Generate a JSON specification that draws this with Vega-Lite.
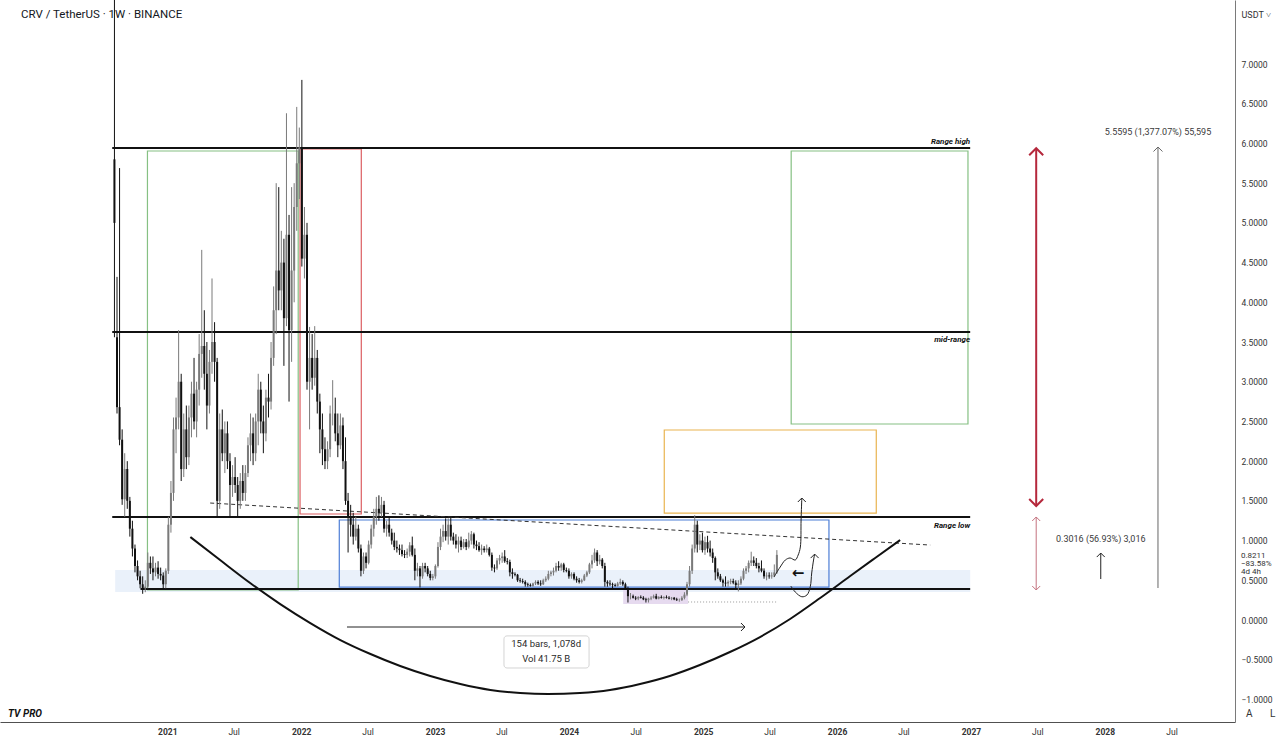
{
"$schema":"https://vega.github.io/schema/vega-lite/v6.json",
"width":1235,"height":722,
"autosize":{"type":"none"},
"padding":{"left":0,"top":0,"right":45,"bottom":22},
"background":"#ffffff",
"config":{"view":{"stroke":null},"font":"Roboto","scale":{"continuousPadding":0}},
"title":{"text":"CRV / TetherUS · 1W · BINANCE","anchor":"start","frame":"group","orient":"top","offset":-20,"dx":21,"fontSize":11.5,"fontWeight":"normal","color":"#131722","font":"Roboto"},
"datasets":{
"candles":[
{"d":"2020-08-10","o":5.8,"h":9.5,"l":3.56,"c":5.0},
{"d":"2020-08-17","o":3.56,"h":4.32,"l":2.6,"c":2.68},
{"d":"2020-08-24","o":2.68,"h":5.69,"l":2.2,"c":2.27},
{"d":"2020-08-31","o":2.27,"h":2.4,"l":1.45,"c":1.52},
{"d":"2020-09-07","o":1.52,"h":2.1,"l":1.3,"c":1.9},
{"d":"2020-09-14","o":1.9,"h":2.0,"l":1.4,"c":1.5},
{"d":"2020-09-21","o":1.5,"h":1.55,"l":1.05,"c":1.15},
{"d":"2020-09-28","o":1.15,"h":1.25,"l":0.8,"c":0.9},
{"d":"2020-10-05","o":0.9,"h":0.95,"l":0.6,"c":0.68},
{"d":"2020-10-12","o":0.68,"h":0.75,"l":0.5,"c":0.55},
{"d":"2020-10-19","o":0.55,"h":0.62,"l":0.4,"c":0.45},
{"d":"2020-10-26","o":0.45,"h":0.55,"l":0.33,"c":0.4},
{"d":"2020-11-02","o":0.4,"h":0.5,"l":0.35,"c":0.42},
{"d":"2020-11-09","o":0.42,"h":0.85,"l":0.4,"c":0.72},
{"d":"2020-11-16","o":0.72,"h":0.8,"l":0.58,"c":0.65},
{"d":"2020-11-23","o":0.65,"h":0.8,"l":0.5,"c":0.6},
{"d":"2020-11-30","o":0.6,"h":0.72,"l":0.55,"c":0.66},
{"d":"2020-12-07","o":0.66,"h":0.74,"l":0.52,"c":0.58},
{"d":"2020-12-14","o":0.58,"h":0.66,"l":0.5,"c":0.56},
{"d":"2020-12-21","o":0.56,"h":0.6,"l":0.4,"c":0.45},
{"d":"2020-12-28","o":0.45,"h":0.65,"l":0.4,"c":0.62},
{"d":"2021-01-04","o":0.62,"h":1.3,"l":0.58,"c":1.2},
{"d":"2021-01-11","o":1.2,"h":1.75,"l":1.1,"c":1.6},
{"d":"2021-01-18","o":1.6,"h":2.55,"l":1.5,"c":2.4},
{"d":"2021-01-25","o":2.4,"h":2.8,"l":2.1,"c":2.55},
{"d":"2021-02-01","o":2.55,"h":3.65,"l":2.4,"c":3.0},
{"d":"2021-02-08","o":3.0,"h":3.1,"l":1.75,"c":1.9},
{"d":"2021-02-15","o":1.9,"h":2.6,"l":1.8,"c":2.4},
{"d":"2021-02-22","o":2.4,"h":2.7,"l":1.9,"c":2.05},
{"d":"2021-03-01","o":2.05,"h":2.7,"l":1.95,"c":2.55},
{"d":"2021-03-08","o":2.55,"h":3.0,"l":2.3,"c":2.85},
{"d":"2021-03-15","o":2.85,"h":3.3,"l":2.4,"c":2.5},
{"d":"2021-03-22","o":2.5,"h":3.0,"l":2.3,"c":2.9},
{"d":"2021-03-29","o":2.9,"h":3.6,"l":2.7,"c":3.35},
{"d":"2021-04-05","o":3.35,"h":4.66,"l":3.05,"c":3.45},
{"d":"2021-04-12","o":3.45,"h":3.9,"l":2.9,"c":3.1},
{"d":"2021-04-19","o":3.1,"h":3.5,"l":2.4,"c":2.7},
{"d":"2021-04-26","o":2.7,"h":3.4,"l":2.6,"c":3.25},
{"d":"2021-05-03","o":3.25,"h":4.3,"l":3.1,"c":3.5},
{"d":"2021-05-10","o":3.5,"h":3.75,"l":3.0,"c":3.25},
{"d":"2021-05-17","o":3.25,"h":3.3,"l":1.3,"c":1.5},
{"d":"2021-05-24","o":1.5,"h":2.6,"l":1.4,"c":2.4},
{"d":"2021-05-31","o":2.4,"h":2.65,"l":2.0,"c":2.1},
{"d":"2021-06-07","o":2.1,"h":2.5,"l":1.85,"c":2.35},
{"d":"2021-06-14","o":2.35,"h":2.5,"l":1.9,"c":2.0},
{"d":"2021-06-21","o":2.0,"h":2.1,"l":1.3,"c":1.7},
{"d":"2021-06-28","o":1.7,"h":1.95,"l":1.55,"c":1.8},
{"d":"2021-07-05","o":1.8,"h":2.05,"l":1.6,"c":1.7},
{"d":"2021-07-12","o":1.7,"h":1.8,"l":1.3,"c":1.5},
{"d":"2021-07-19","o":1.5,"h":1.85,"l":1.4,"c":1.75},
{"d":"2021-07-26","o":1.75,"h":1.95,"l":1.5,"c":1.6},
{"d":"2021-08-02","o":1.6,"h":1.95,"l":1.5,"c":1.85},
{"d":"2021-08-09","o":1.85,"h":2.3,"l":1.8,"c":2.2},
{"d":"2021-08-16","o":2.2,"h":2.6,"l":2.0,"c":2.35},
{"d":"2021-08-23","o":2.35,"h":2.55,"l":1.95,"c":2.1},
{"d":"2021-08-30","o":2.1,"h":2.6,"l":2.0,"c":2.5},
{"d":"2021-09-06","o":2.5,"h":3.1,"l":2.2,"c":2.9},
{"d":"2021-09-13","o":2.9,"h":3.0,"l":2.35,"c":2.5},
{"d":"2021-09-20","o":2.5,"h":2.7,"l":2.1,"c":2.35},
{"d":"2021-09-27","o":2.35,"h":2.9,"l":2.25,"c":2.8},
{"d":"2021-10-04","o":2.8,"h":3.1,"l":2.55,"c":2.75},
{"d":"2021-10-11","o":2.75,"h":3.5,"l":2.65,"c":3.3},
{"d":"2021-10-18","o":3.3,"h":4.2,"l":3.2,"c":3.9},
{"d":"2021-10-25","o":3.9,"h":5.5,"l":3.6,"c":4.4},
{"d":"2021-11-01","o":4.4,"h":5.45,"l":3.9,"c":4.15},
{"d":"2021-11-08","o":4.15,"h":4.9,"l":3.9,"c":4.5},
{"d":"2021-11-15","o":4.5,"h":4.8,"l":3.2,"c":3.8},
{"d":"2021-11-22","o":3.8,"h":6.38,"l":3.7,"c":4.85},
{"d":"2021-11-29","o":4.85,"h":5.1,"l":2.75,"c":3.65},
{"d":"2021-12-06","o":3.65,"h":5.45,"l":3.25,"c":4.4},
{"d":"2021-12-13","o":4.4,"h":5.5,"l":4.0,"c":5.2},
{"d":"2021-12-20","o":5.2,"h":6.46,"l":4.9,"c":5.75},
{"d":"2021-12-27","o":5.75,"h":6.2,"l":5.3,"c":5.95},
{"d":"2022-01-03","o":5.95,"h":6.8,"l":4.45,"c":4.55},
{"d":"2022-01-10","o":4.55,"h":5.2,"l":4.3,"c":4.85},
{"d":"2022-01-17","o":4.85,"h":5.0,"l":2.9,"c":3.0},
{"d":"2022-01-24","o":3.0,"h":3.69,"l":2.4,"c":3.3},
{"d":"2022-01-31","o":3.3,"h":3.6,"l":2.9,"c":3.05},
{"d":"2022-02-07","o":3.05,"h":3.7,"l":2.95,"c":3.3},
{"d":"2022-02-14","o":3.3,"h":3.4,"l":2.6,"c":2.75},
{"d":"2022-02-21","o":2.75,"h":2.85,"l":2.1,"c":2.4},
{"d":"2022-02-28","o":2.4,"h":2.6,"l":1.95,"c":2.15},
{"d":"2022-03-07","o":2.15,"h":2.3,"l":1.9,"c":2.0},
{"d":"2022-03-14","o":2.0,"h":2.25,"l":1.9,"c":2.15},
{"d":"2022-03-21","o":2.15,"h":2.7,"l":2.05,"c":2.6},
{"d":"2022-03-28","o":2.6,"h":3.02,"l":2.45,"c":2.6},
{"d":"2022-04-04","o":2.6,"h":2.8,"l":2.25,"c":2.35},
{"d":"2022-04-11","o":2.35,"h":2.6,"l":2.05,"c":2.2},
{"d":"2022-04-18","o":2.2,"h":2.6,"l":2.15,"c":2.45},
{"d":"2022-04-25","o":2.45,"h":2.55,"l":1.9,"c":2.0},
{"d":"2022-05-02","o":2.0,"h":2.3,"l":1.45,"c":1.5},
{"d":"2022-05-09","o":1.5,"h":1.6,"l":0.85,"c":1.3},
{"d":"2022-05-16","o":1.3,"h":1.45,"l":1.05,"c":1.2},
{"d":"2022-05-23","o":1.2,"h":1.35,"l":0.95,"c":1.05},
{"d":"2022-05-30","o":1.05,"h":1.3,"l":1.0,"c":1.15},
{"d":"2022-06-06","o":1.15,"h":1.2,"l":0.85,"c":0.9},
{"d":"2022-06-13","o":0.9,"h":0.95,"l":0.55,"c":0.62},
{"d":"2022-06-20","o":0.62,"h":0.85,"l":0.58,"c":0.8},
{"d":"2022-06-27","o":0.8,"h":0.85,"l":0.65,"c":0.72},
{"d":"2022-07-04","o":0.72,"h":1.0,"l":0.7,"c":0.95},
{"d":"2022-07-11","o":0.95,"h":1.2,"l":0.9,"c":1.15},
{"d":"2022-07-18","o":1.15,"h":1.4,"l":1.05,"c":1.3},
{"d":"2022-07-25","o":1.3,"h":1.55,"l":1.2,"c":1.4},
{"d":"2022-08-01","o":1.4,"h":1.57,"l":1.25,"c":1.35},
{"d":"2022-08-08","o":1.35,"h":1.55,"l":1.3,"c":1.45},
{"d":"2022-08-15","o":1.45,"h":1.5,"l":1.1,"c":1.15},
{"d":"2022-08-22","o":1.15,"h":1.25,"l":1.05,"c":1.2},
{"d":"2022-08-29","o":1.2,"h":1.3,"l":1.05,"c":1.1},
{"d":"2022-09-05","o":1.1,"h":1.15,"l":0.95,"c":1.0},
{"d":"2022-09-12","o":1.0,"h":1.1,"l":0.88,"c":0.92},
{"d":"2022-09-19","o":0.92,"h":1.0,"l":0.85,"c":0.9},
{"d":"2022-09-26","o":0.9,"h":0.95,"l":0.82,"c":0.88},
{"d":"2022-10-03","o":0.88,"h":0.95,"l":0.8,"c":0.83},
{"d":"2022-10-10","o":0.83,"h":0.88,"l":0.78,"c":0.82},
{"d":"2022-10-17","o":0.82,"h":0.9,"l":0.78,"c":0.86},
{"d":"2022-10-24","o":0.86,"h":0.98,"l":0.8,"c":0.94},
{"d":"2022-10-31","o":0.94,"h":1.05,"l":0.8,"c":0.82},
{"d":"2022-11-07","o":0.82,"h":0.9,"l":0.5,"c":0.62},
{"d":"2022-11-14","o":0.62,"h":0.72,"l":0.55,"c":0.65},
{"d":"2022-11-21","o":0.65,"h":0.68,"l":0.41,"c":0.55},
{"d":"2022-11-28","o":0.55,"h":0.72,"l":0.52,"c":0.68},
{"d":"2022-12-05","o":0.68,"h":0.72,"l":0.6,"c":0.65},
{"d":"2022-12-12","o":0.65,"h":0.68,"l":0.55,"c":0.58},
{"d":"2022-12-19","o":0.58,"h":0.62,"l":0.5,"c":0.53},
{"d":"2022-12-26","o":0.53,"h":0.58,"l":0.5,"c":0.55},
{"d":"2023-01-02","o":0.55,"h":0.7,"l":0.52,"c":0.68},
{"d":"2023-01-09","o":0.68,"h":0.98,"l":0.66,"c":0.92},
{"d":"2023-01-16","o":0.92,"h":1.15,"l":0.88,"c":1.05},
{"d":"2023-01-23","o":1.05,"h":1.2,"l":0.98,"c":1.12},
{"d":"2023-01-30","o":1.12,"h":1.28,"l":1.0,"c":1.05},
{"d":"2023-02-06","o":1.05,"h":1.28,"l":0.95,"c":1.2},
{"d":"2023-02-13","o":1.2,"h":1.3,"l":1.0,"c":1.05},
{"d":"2023-02-20","o":1.05,"h":1.1,"l":0.95,"c":1.0},
{"d":"2023-02-27","o":1.0,"h":1.08,"l":0.9,"c":0.95},
{"d":"2023-03-06","o":0.95,"h":1.05,"l":0.85,"c":1.0},
{"d":"2023-03-13","o":1.0,"h":1.05,"l":0.88,"c":0.92},
{"d":"2023-03-20","o":0.92,"h":1.02,"l":0.9,"c":0.98},
{"d":"2023-03-27","o":0.98,"h":1.02,"l":0.88,"c":0.92},
{"d":"2023-04-03","o":0.92,"h":1.1,"l":0.9,"c":1.0},
{"d":"2023-04-10","o":1.0,"h":1.12,"l":0.95,"c":1.08},
{"d":"2023-04-17","o":1.08,"h":1.1,"l":0.9,"c":0.95},
{"d":"2023-04-24","o":0.95,"h":1.0,"l":0.88,"c":0.93},
{"d":"2023-05-01","o":0.93,"h":0.98,"l":0.86,"c":0.88},
{"d":"2023-05-08","o":0.88,"h":0.95,"l":0.82,"c":0.9},
{"d":"2023-05-15","o":0.9,"h":0.93,"l":0.85,"c":0.88},
{"d":"2023-05-22","o":0.88,"h":0.95,"l":0.85,"c":0.9},
{"d":"2023-05-29","o":0.9,"h":0.92,"l":0.8,"c":0.82},
{"d":"2023-06-05","o":0.82,"h":0.85,"l":0.62,"c":0.66},
{"d":"2023-06-12","o":0.66,"h":0.7,"l":0.6,"c":0.65},
{"d":"2023-06-19","o":0.65,"h":0.78,"l":0.63,"c":0.75},
{"d":"2023-06-26","o":0.75,"h":0.82,"l":0.7,"c":0.78},
{"d":"2023-07-03","o":0.78,"h":0.85,"l":0.72,"c":0.8},
{"d":"2023-07-10","o":0.8,"h":0.88,"l":0.72,"c":0.74},
{"d":"2023-07-17","o":0.74,"h":0.78,"l":0.7,"c":0.73},
{"d":"2023-07-24","o":0.73,"h":0.76,"l":0.55,"c":0.6},
{"d":"2023-07-31","o":0.6,"h":0.65,"l":0.52,"c":0.58},
{"d":"2023-08-07","o":0.58,"h":0.6,"l":0.55,"c":0.57},
{"d":"2023-08-14","o":0.57,"h":0.58,"l":0.48,"c":0.5},
{"d":"2023-08-21","o":0.5,"h":0.53,"l":0.47,"c":0.49},
{"d":"2023-08-28","o":0.49,"h":0.52,"l":0.46,"c":0.48},
{"d":"2023-09-04","o":0.48,"h":0.5,"l":0.42,"c":0.45},
{"d":"2023-09-11","o":0.45,"h":0.47,"l":0.42,"c":0.44},
{"d":"2023-09-18","o":0.44,"h":0.46,"l":0.42,"c":0.43},
{"d":"2023-09-25","o":0.43,"h":0.47,"l":0.42,"c":0.46},
{"d":"2023-10-02","o":0.46,"h":0.5,"l":0.44,"c":0.48},
{"d":"2023-10-09","o":0.48,"h":0.5,"l":0.44,"c":0.46},
{"d":"2023-10-16","o":0.46,"h":0.5,"l":0.43,"c":0.45},
{"d":"2023-10-23","o":0.45,"h":0.52,"l":0.44,"c":0.5},
{"d":"2023-10-30","o":0.5,"h":0.55,"l":0.48,"c":0.52},
{"d":"2023-11-06","o":0.52,"h":0.62,"l":0.5,"c":0.58},
{"d":"2023-11-13","o":0.58,"h":0.62,"l":0.55,"c":0.6},
{"d":"2023-11-20","o":0.6,"h":0.66,"l":0.56,"c":0.62},
{"d":"2023-11-27","o":0.62,"h":0.72,"l":0.6,"c":0.68},
{"d":"2023-12-04","o":0.68,"h":0.74,"l":0.62,"c":0.66},
{"d":"2023-12-11","o":0.66,"h":0.72,"l":0.62,"c":0.7},
{"d":"2023-12-18","o":0.7,"h":0.72,"l":0.6,"c":0.63},
{"d":"2023-12-25","o":0.63,"h":0.66,"l":0.6,"c":0.62},
{"d":"2024-01-01","o":0.62,"h":0.65,"l":0.52,"c":0.55},
{"d":"2024-01-08","o":0.55,"h":0.6,"l":0.52,"c":0.58},
{"d":"2024-01-15","o":0.58,"h":0.6,"l":0.5,"c":0.52},
{"d":"2024-01-22","o":0.52,"h":0.55,"l":0.47,"c":0.5},
{"d":"2024-01-29","o":0.5,"h":0.53,"l":0.46,"c":0.48},
{"d":"2024-02-05","o":0.48,"h":0.52,"l":0.46,"c":0.5},
{"d":"2024-02-12","o":0.5,"h":0.58,"l":0.49,"c":0.56},
{"d":"2024-02-19","o":0.56,"h":0.62,"l":0.54,"c":0.6},
{"d":"2024-02-26","o":0.6,"h":0.72,"l":0.58,"c":0.7},
{"d":"2024-03-04","o":0.7,"h":0.82,"l":0.65,"c":0.75},
{"d":"2024-03-11","o":0.75,"h":0.9,"l":0.72,"c":0.85},
{"d":"2024-03-18","o":0.85,"h":0.88,"l":0.68,"c":0.74},
{"d":"2024-03-25","o":0.74,"h":0.82,"l":0.7,"c":0.76},
{"d":"2024-04-01","o":0.76,"h":0.78,"l":0.65,"c":0.68},
{"d":"2024-04-08","o":0.68,"h":0.72,"l":0.42,"c":0.48},
{"d":"2024-04-15","o":0.48,"h":0.5,"l":0.42,"c":0.46},
{"d":"2024-04-22","o":0.46,"h":0.5,"l":0.43,"c":0.45},
{"d":"2024-04-29","o":0.45,"h":0.47,"l":0.4,"c":0.44},
{"d":"2024-05-06","o":0.44,"h":0.46,"l":0.42,"c":0.43},
{"d":"2024-05-13","o":0.43,"h":0.48,"l":0.42,"c":0.46},
{"d":"2024-05-20","o":0.46,"h":0.52,"l":0.44,"c":0.48},
{"d":"2024-05-27","o":0.48,"h":0.5,"l":0.43,"c":0.45},
{"d":"2024-06-03","o":0.45,"h":0.47,"l":0.38,"c":0.4},
{"d":"2024-06-10","o":0.4,"h":0.42,"l":0.22,"c":0.3},
{"d":"2024-06-17","o":0.3,"h":0.34,"l":0.26,"c":0.3},
{"d":"2024-06-24","o":0.3,"h":0.32,"l":0.27,"c":0.28},
{"d":"2024-07-01","o":0.28,"h":0.3,"l":0.25,"c":0.27},
{"d":"2024-07-08","o":0.27,"h":0.3,"l":0.25,"c":0.29},
{"d":"2024-07-15","o":0.29,"h":0.31,"l":0.27,"c":0.28},
{"d":"2024-07-22","o":0.28,"h":0.3,"l":0.25,"c":0.26},
{"d":"2024-07-29","o":0.26,"h":0.28,"l":0.22,"c":0.25},
{"d":"2024-08-05","o":0.25,"h":0.28,"l":0.22,"c":0.27},
{"d":"2024-08-12","o":0.27,"h":0.3,"l":0.25,"c":0.28},
{"d":"2024-08-19","o":0.28,"h":0.32,"l":0.27,"c":0.3},
{"d":"2024-08-26","o":0.3,"h":0.33,"l":0.26,"c":0.27},
{"d":"2024-09-02","o":0.27,"h":0.3,"l":0.26,"c":0.29},
{"d":"2024-09-09","o":0.29,"h":0.31,"l":0.27,"c":0.28},
{"d":"2024-09-16","o":0.28,"h":0.3,"l":0.26,"c":0.29},
{"d":"2024-09-23","o":0.29,"h":0.31,"l":0.27,"c":0.28},
{"d":"2024-09-30","o":0.28,"h":0.3,"l":0.26,"c":0.27},
{"d":"2024-10-07","o":0.27,"h":0.29,"l":0.25,"c":0.28},
{"d":"2024-10-14","o":0.28,"h":0.29,"l":0.25,"c":0.26},
{"d":"2024-10-21","o":0.26,"h":0.28,"l":0.24,"c":0.25},
{"d":"2024-10-28","o":0.25,"h":0.27,"l":0.23,"c":0.25},
{"d":"2024-11-04","o":0.25,"h":0.3,"l":0.24,"c":0.28},
{"d":"2024-11-11","o":0.28,"h":0.35,"l":0.26,"c":0.32},
{"d":"2024-11-18","o":0.32,"h":0.48,"l":0.3,"c":0.45},
{"d":"2024-11-25","o":0.45,"h":0.68,"l":0.42,"c":0.62},
{"d":"2024-12-02","o":0.62,"h":0.95,"l":0.58,"c":0.9},
{"d":"2024-12-09","o":0.9,"h":1.32,"l":0.85,"c":1.2},
{"d":"2024-12-16","o":1.2,"h":1.25,"l":0.85,"c":0.95},
{"d":"2024-12-23","o":0.95,"h":1.08,"l":0.88,"c":1.0},
{"d":"2024-12-30","o":1.0,"h":1.1,"l":0.85,"c":0.88},
{"d":"2025-01-06","o":0.88,"h":1.05,"l":0.82,"c":0.98},
{"d":"2025-01-13","o":0.98,"h":1.06,"l":0.85,"c":0.9},
{"d":"2025-01-20","o":0.9,"h":1.0,"l":0.8,"c":0.85},
{"d":"2025-01-27","o":0.85,"h":0.9,"l":0.72,"c":0.78},
{"d":"2025-02-03","o":0.78,"h":0.8,"l":0.5,"c":0.6},
{"d":"2025-02-10","o":0.6,"h":0.65,"l":0.52,"c":0.55},
{"d":"2025-02-17","o":0.55,"h":0.58,"l":0.48,"c":0.5},
{"d":"2025-02-24","o":0.5,"h":0.52,"l":0.42,"c":0.47},
{"d":"2025-03-03","o":0.47,"h":0.55,"l":0.42,"c":0.46},
{"d":"2025-03-10","o":0.46,"h":0.5,"l":0.42,"c":0.48},
{"d":"2025-03-17","o":0.48,"h":0.52,"l":0.45,"c":0.49},
{"d":"2025-03-24","o":0.49,"h":0.52,"l":0.45,"c":0.47},
{"d":"2025-03-31","o":0.47,"h":0.5,"l":0.4,"c":0.44},
{"d":"2025-04-07","o":0.44,"h":0.5,"l":0.36,"c":0.46},
{"d":"2025-04-14","o":0.46,"h":0.55,"l":0.44,"c":0.52},
{"d":"2025-04-21","o":0.52,"h":0.65,"l":0.5,"c":0.62},
{"d":"2025-04-28","o":0.62,"h":0.68,"l":0.58,"c":0.65},
{"d":"2025-05-05","o":0.65,"h":0.75,"l":0.6,"c":0.72},
{"d":"2025-05-12","o":0.72,"h":0.86,"l":0.68,"c":0.75},
{"d":"2025-05-19","o":0.75,"h":0.8,"l":0.68,"c":0.72},
{"d":"2025-05-26","o":0.72,"h":0.78,"l":0.65,"c":0.68},
{"d":"2025-06-02","o":0.68,"h":0.72,"l":0.6,"c":0.65},
{"d":"2025-06-09","o":0.65,"h":0.75,"l":0.6,"c":0.62},
{"d":"2025-06-16","o":0.62,"h":0.65,"l":0.52,"c":0.55},
{"d":"2025-06-23","o":0.55,"h":0.6,"l":0.5,"c":0.56},
{"d":"2025-06-30","o":0.56,"h":0.6,"l":0.52,"c":0.55},
{"d":"2025-07-07","o":0.55,"h":0.6,"l":0.52,"c":0.56},
{"d":"2025-07-14","o":0.56,"h":0.7,"l":0.54,"c":0.6},
{"d":"2025-07-21","o":0.6,"h":0.88,"l":0.58,"c":0.82}
]
},
"layer":[
{"data":{"values":[{"x1":"2020-08-12","x2":"2026-12-30","y1":0.63,"y2":0.353}]},
 "mark":{"type":"rect","fill":"#e8eff9","opacity":0.9},
 "encoding":{
  "x":{"field":"x1","type":"temporal","scale":{"domain":[{"year":2019,"month":10,"date":3},{"year":2028,"month":12,"date":21}],"padding":0},
   "axis":{"values":[{"year":2021,"month":1,"date":1},{"year":2021,"month":7,"date":1},{"year":2022,"month":1,"date":1},{"year":2022,"month":7,"date":1},{"year":2023,"month":1,"date":1},{"year":2023,"month":7,"date":1},{"year":2024,"month":1,"date":1},{"year":2024,"month":7,"date":1},{"year":2025,"month":1,"date":1},{"year":2025,"month":7,"date":1},{"year":2026,"month":1,"date":1},{"year":2026,"month":7,"date":1},{"year":2027,"month":1,"date":1},{"year":2027,"month":7,"date":1},{"year":2028,"month":1,"date":1},{"year":2028,"month":7,"date":1}],
    "labelExpr":"month(datum.value) == 0 ? timeFormat(datum.value, '%Y') : 'Jul'",
    "title":null,"grid":false,"ticks":false,"domainColor":"#505050","domainWidth":1.2,"labelFontSize":8.5,"labelColor":"#333333","labelPadding":5,"labelFont":"Roboto","labelFlush":false,"labelOverlap":false,
    "labelFontWeight":{"condition":{"test":"month(datum.value) == 0","value":"bold"},"value":"normal"}}},
  "x2":{"field":"x2"},
  "y":{"field":"y1","type":"quantitative","scale":{"domain":[-1.284,7.806],"nice":false,"zero":false},
   "axis":{"orient":"right","values":[-1,-0.5,0,0.5,1,1.5,2,2.5,3,3.5,4,4.5,5,5.5,6,6.5,7],"format":".4f","grid":false,"ticks":false,"domainColor":"#7a7a7a","labelFontSize":8.5,"labelColor":"#333333","labelPadding":6,"labelFont":"Roboto","labelFlush":false,
    "title":"USDT ˅","titleAngle":0,"titleX":6,"titleY":14,"titleAlign":"left","titleBaseline":"middle","titleFontSize":9,"titleFontWeight":"normal","titleColor":"#333333","titleFont":"Roboto"}},
  "y2":{"field":"y2"}}},
{"data":{"values":[{"x1":"2024-05-28","x2":"2024-11-21","y1":0.403,"y2":0.201}]},
 "mark":{"type":"rect","fill":"#e2d4ec","opacity":0.85},
 "encoding":{
  "x":{"field":"x1","type":"temporal","scale":{"domain":[{"year":2019,"month":10,"date":3},{"year":2028,"month":12,"date":21}],"padding":0}},
  "x2":{"field":"x2"},
  "y":{"field":"y1","type":"quantitative","scale":{"domain":[-1.284,7.806],"nice":false,"zero":false}},
  "y2":{"field":"y2"}}},
{"data":{"values":[{"x1":"2023-07-08","x2":"2024-02-25","y1":-0.2,"y2":-0.604}]},
 "mark":{"type":"rect","fill":"#ffffff","stroke":"#d4d4d4","strokeWidth":1,"cornerRadius":3},
 "encoding":{
  "x":{"field":"x1","type":"temporal","scale":{"domain":[{"year":2019,"month":10,"date":3},{"year":2028,"month":12,"date":21}],"padding":0}},
  "x2":{"field":"x2"},
  "y":{"field":"y1","type":"quantitative","scale":{"domain":[-1.284,7.806],"nice":false,"zero":false}},
  "y2":{"field":"y2"}}},
{"data":{"values":[
  {"n":"g1","x1":"2020-11-08","x2":"2021-12-24","y1":5.905,"y2":0.378},
  {"n":"r","x1":"2021-12-29","x2":"2022-06-14","y1":5.93,"y2":1.335},
  {"n":"b","x1":"2022-04-15","x2":"2025-12-10","y1":1.259,"y2":0.415},
  {"n":"y","x1":"2024-09-17","x2":"2026-04-18","y1":2.392,"y2":1.347},
  {"n":"g2","x1":"2025-08-29","x2":"2026-12-24","y1":5.905,"y2":2.468}]},
 "mark":{"type":"rect","fillOpacity":0,"strokeWidth":1.2},
 "encoding":{
  "x":{"field":"x1","type":"temporal","scale":{"domain":[{"year":2019,"month":10,"date":3},{"year":2028,"month":12,"date":21}],"padding":0}},
  "x2":{"field":"x2"},
  "y":{"field":"y1","type":"quantitative","scale":{"domain":[-1.284,7.806],"nice":false,"zero":false}},
  "y2":{"field":"y2"},
  "stroke":{"field":"n","type":"nominal","scale":{"domain":["g1","r","b","y","g2"],"range":["#86c083","#dc5f62","#4d7ed6","#e9b450","#86c083"]},"legend":null}}},
{"data":{"values":[
  {"x1":"2020-08-04","x2":"2026-12-30","v":5.942},
  {"x1":"2020-08-04","x2":"2026-12-30","v":3.626},
  {"x1":"2020-08-04","x2":"2026-12-30","v":1.297},
  {"x1":"2020-10-20","x2":"2026-12-30","v":0.39}]},
 "mark":{"type":"rule","strokeWidth":2,"color":"#111111"},
 "encoding":{
  "x":{"field":"x1","type":"temporal","scale":{"domain":[{"year":2019,"month":10,"date":3},{"year":2028,"month":12,"date":21}],"padding":0}},
  "x2":{"field":"x2"},
  "y":{"field":"v","type":"quantitative","scale":{"domain":[-1.284,7.806],"nice":false,"zero":false}}}},
{"data":{"values":[{"x1":"2021-04-28","x2":"2026-09-12","y1":1.473,"y2":0.944}]},
 "mark":{"type":"rule","strokeWidth":1,"color":"#333333","strokeDash":[4,3]},
 "encoding":{
  "x":{"field":"x1","type":"temporal","scale":{"domain":[{"year":2019,"month":10,"date":3},{"year":2028,"month":12,"date":21}],"padding":0}},
  "x2":{"field":"x2"},
  "y":{"field":"y1","type":"quantitative","scale":{"domain":[-1.284,7.806],"nice":false,"zero":false}},
  "y2":{"field":"y2"}}},
{"data":{"values":[{"x1":"2024-11-21","x2":"2025-07-22","y1":0.227,"y2":0.227}]},
 "mark":{"type":"rule","strokeWidth":1,"color":"#9a9a9a","strokeDash":[1,2]},
 "encoding":{
  "x":{"field":"x1","type":"temporal","scale":{"domain":[{"year":2019,"month":10,"date":3},{"year":2028,"month":12,"date":21}],"padding":0}},
  "x2":{"field":"x2"},
  "y":{"field":"y1","type":"quantitative","scale":{"domain":[-1.284,7.806],"nice":false,"zero":false}},
  "y2":{"field":"y2"}}},
{"data":{"values":[
  {"d":"2021-03-05","v":1.045},{"d":"2021-05-25","v":0.755},{"d":"2021-08-15","v":0.466},{"d":"2021-11-05","v":0.201},
  {"d":"2022-01-26","v":-0.038},{"d":"2022-04-18","v":-0.252},{"d":"2022-07-09","v":-0.428},{"d":"2022-09-28","v":-0.579},
  {"d":"2022-12-19","v":-0.705},{"d":"2023-03-11","v":-0.806},{"d":"2023-06-01","v":-0.881},{"d":"2023-08-21","v":-0.919},
  {"d":"2023-11-05","v":-0.932},{"d":"2024-01-31","v":-0.919},{"d":"2024-04-22","v":-0.881},{"d":"2024-07-13","v":-0.806},
  {"d":"2024-10-02","v":-0.705},{"d":"2024-12-23","v":-0.567},{"d":"2025-03-15","v":-0.403},{"d":"2025-06-05","v":-0.214},
  {"d":"2025-08-26","v":0.013},{"d":"2025-11-16","v":0.277},{"d":"2026-02-06","v":0.554},{"d":"2026-04-15","v":0.781},
  {"d":"2026-06-22","v":1.007}]},
 "mark":{"type":"line","strokeWidth":2,"color":"#111111","interpolate":"monotone"},
 "encoding":{
  "x":{"field":"d","type":"temporal","scale":{"domain":[{"year":2019,"month":10,"date":3},{"year":2028,"month":12,"date":21}],"padding":0}},
  "y":{"field":"v","type":"quantitative","scale":{"domain":[-1.284,7.806],"nice":false,"zero":false}}}},
{"data":{"name":"candles"},
 "mark":{"type":"rule","strokeWidth":1,"clip":true},
 "encoding":{
  "x":{"field":"d","type":"temporal","scale":{"domain":[{"year":2019,"month":10,"date":3},{"year":2028,"month":12,"date":21}],"padding":0}},
  "y":{"field":"l","type":"quantitative","scale":{"domain":[-1.284,7.806],"nice":false,"zero":false}},
  "y2":{"field":"h"},
  "color":{"condition":{"test":"datum.c < datum.o","value":"#111111"},"value":"#7a7a7a"}}},
{"data":{"name":"candles"},
 "mark":{"type":"bar","size":2,"clip":true},
 "encoding":{
  "x":{"field":"d","type":"temporal","scale":{"domain":[{"year":2019,"month":10,"date":3},{"year":2028,"month":12,"date":21}],"padding":0}},
  "y":{"field":"o","type":"quantitative","scale":{"domain":[-1.284,7.806],"nice":false,"zero":false}},
  "y2":{"field":"c"},
  "color":{"condition":{"test":"datum.c < datum.o","value":"#111111"},"value":"#7a7a7a"}}},
{"data":{"values":[
  {"id":"c1","s":1,"d":"2025-07-13","v":0.541},{"id":"c1","s":2,"d":"2025-07-30","v":0.667},{"id":"c1","s":3,"d":"2025-08-13","v":0.755},
  {"id":"c1","s":4,"d":"2025-08-26","v":0.781},{"id":"c1","s":5,"d":"2025-09-09","v":0.755},{"id":"c1","s":6,"d":"2025-09-17","v":0.818},
  {"id":"c1","s":7,"d":"2025-09-23","v":0.919},{"id":"c1","s":8,"d":"2025-09-25","v":1.259},{"id":"c1","s":9,"d":"2025-09-27","v":1.536},
  {"id":"c2","s":1,"d":"2025-08-28","v":0.428},{"id":"c2","s":2,"d":"2025-09-09","v":0.353},{"id":"c2","s":3,"d":"2025-09-27","v":0.293},
  {"id":"c2","s":4,"d":"2025-10-11","v":0.315},{"id":"c2","s":5,"d":"2025-10-20","v":0.419},{"id":"c2","s":6,"d":"2025-10-24","v":0.592},
  {"id":"c2","s":7,"d":"2025-10-29","v":0.755},{"id":"c2","s":8,"d":"2025-11-01","v":0.83}]},
 "mark":{"type":"line","strokeWidth":1,"color":"#222222","interpolate":"catmull-rom"},
 "encoding":{
  "x":{"field":"d","type":"temporal","scale":{"domain":[{"year":2019,"month":10,"date":3},{"year":2028,"month":12,"date":21}],"padding":0}},
  "y":{"field":"v","type":"quantitative","scale":{"domain":[-1.284,7.806],"nice":false,"zero":false}},
  "detail":{"field":"id"},
  "order":{"field":"s","type":"quantitative"}}},
{"data":{"values":[
  {"x1":"2022-05-06","x2":"2025-04-25","y1":-0.088,"y2":-0.088},
  {"x1":"2027-12-21","x2":"2027-12-21","y1":0.516,"y2":0.843}]},
 "mark":{"type":"rule","strokeWidth":1,"color":"#222222"},
 "encoding":{
  "x":{"field":"x1","type":"temporal","scale":{"domain":[{"year":2019,"month":10,"date":3},{"year":2028,"month":12,"date":21}],"padding":0}},
  "x2":{"field":"x2"},
  "y":{"field":"y1","type":"quantitative","scale":{"domain":[-1.284,7.806],"nice":false,"zero":false}},
  "y2":{"field":"y2"}}},
{"data":{"values":[{"x1":"2028-05-25","y1":0.403,"y2":5.955}]},
 "mark":{"type":"rule","strokeWidth":1,"color":"#666666"},
 "encoding":{
  "x":{"field":"x1","type":"temporal","scale":{"domain":[{"year":2019,"month":10,"date":3},{"year":2028,"month":12,"date":21}],"padding":0}},
  "y":{"field":"y1","type":"quantitative","scale":{"domain":[-1.284,7.806],"nice":false,"zero":false}},
  "y2":{"field":"y2"}}},
{"data":{"values":[{"x1":"2027-06-28","y1":1.435,"y2":5.94}]},
 "mark":{"type":"rule","strokeWidth":2,"color":"#b5283c"},
 "encoding":{
  "x":{"field":"x1","type":"temporal","scale":{"domain":[{"year":2019,"month":10,"date":3},{"year":2028,"month":12,"date":21}],"padding":0}},
  "y":{"field":"y1","type":"quantitative","scale":{"domain":[-1.284,7.806],"nice":false,"zero":false}},
  "y2":{"field":"y2"}}},
{"data":{"values":[{"x1":"2027-06-28","y1":0.378,"y2":1.297}]},
 "mark":{"type":"rule","strokeWidth":1,"color":"#c4727e"},
 "encoding":{
  "x":{"field":"x1","type":"temporal","scale":{"domain":[{"year":2019,"month":10,"date":3},{"year":2028,"month":12,"date":21}],"padding":0}},
  "y":{"field":"y1","type":"quantitative","scale":{"domain":[-1.284,7.806],"nice":false,"zero":false}},
  "y2":{"field":"y2"}}},
{"data":{"values":[{"d":"2027-06-28","v":5.94,"dir":"up"},{"d":"2027-06-28","v":1.435,"dir":"down"}]},
 "mark":{"type":"point","filled":false,"size":196,"strokeWidth":2,"color":"#b5283c","opacity":1},
 "encoding":{
  "x":{"field":"d","type":"temporal","scale":{"domain":[{"year":2019,"month":10,"date":3},{"year":2028,"month":12,"date":21}],"padding":0}},
  "y":{"field":"v","type":"quantitative","scale":{"domain":[-1.284,7.806],"nice":false,"zero":false}},
  "shape":{"field":"dir","type":"nominal","scale":{"domain":["up","down","right"],"range":["M-1,1L0,0L1,1","M-1,-1L0,0L1,-1","M-1,-1L0,0L-1,1"]},"legend":null}}},
{"data":{"values":[{"d":"2027-06-28","v":1.297,"dir":"up"},{"d":"2027-06-28","v":0.378,"dir":"down"}]},
 "mark":{"type":"point","filled":false,"size":64,"strokeWidth":1,"color":"#c4727e","opacity":1},
 "encoding":{
  "x":{"field":"d","type":"temporal","scale":{"domain":[{"year":2019,"month":10,"date":3},{"year":2028,"month":12,"date":21}],"padding":0}},
  "y":{"field":"v","type":"quantitative","scale":{"domain":[-1.284,7.806],"nice":false,"zero":false}},
  "shape":{"field":"dir","type":"nominal","scale":{"domain":["up","down","right"],"range":["M-1,1L0,0L1,1","M-1,-1L0,0L1,-1","M-1,-1L0,0L-1,1"]},"legend":null}}},
{"data":{"values":[{"d":"2027-12-21","v":0.843,"dir":"up"},{"d":"2025-04-25","v":-0.088,"dir":"right"},{"d":"2025-09-27","v":1.536,"dir":"up"},{"d":"2025-11-01","v":0.83,"dir":"up"}]},
 "mark":{"type":"point","filled":false,"size":64,"strokeWidth":1,"color":"#222222","opacity":1},
 "encoding":{
  "x":{"field":"d","type":"temporal","scale":{"domain":[{"year":2019,"month":10,"date":3},{"year":2028,"month":12,"date":21}],"padding":0}},
  "y":{"field":"v","type":"quantitative","scale":{"domain":[-1.284,7.806],"nice":false,"zero":false}},
  "shape":{"field":"dir","type":"nominal","scale":{"domain":["up","down","right"],"range":["M-1,1L0,0L1,1","M-1,-1L0,0L1,-1","M-1,-1L0,0L-1,1"]},"legend":null}}},
{"data":{"values":[{"d":"2028-05-25","v":5.955,"dir":"up"}]},
 "mark":{"type":"point","filled":false,"size":81,"strokeWidth":1,"color":"#666666","opacity":1},
 "encoding":{
  "x":{"field":"d","type":"temporal","scale":{"domain":[{"year":2019,"month":10,"date":3},{"year":2028,"month":12,"date":21}],"padding":0}},
  "y":{"field":"v","type":"quantitative","scale":{"domain":[-1.284,7.806],"nice":false,"zero":false}},
  "shape":{"field":"dir","type":"nominal","scale":{"domain":["up","down","right"],"range":["M-1,1L0,0L1,1","M-1,-1L0,0L1,-1","M-1,-1L0,0L-1,1"]},"legend":null}}},
{"data":{"values":[{"d":"2026-12-30","v":6.015,"t":"Range high"},{"d":"2026-12-30","v":3.525,"t":"mid-range"},{"d":"2026-12-30","v":1.183,"t":"Range low"}]},
 "mark":{"type":"text","align":"right","baseline":"middle","fontSize":8,"fontWeight":"bold","fontStyle":"italic","color":"#111111","font":"Roboto"},
 "encoding":{
  "x":{"field":"d","type":"temporal","scale":{"domain":[{"year":2019,"month":10,"date":3},{"year":2028,"month":12,"date":21}],"padding":0}},
  "y":{"field":"v","type":"quantitative","scale":{"domain":[-1.284,7.806],"nice":false,"zero":false}},
  "text":{"field":"t"}}},
{"data":{"values":[{"d":"2028-05-25","v":6.144,"t":"5.5595 (1,377.07%) 55,595"},{"d":"2027-12-21","v":1.02,"t":"0.3016 (56.93%) 3,016"}]},
 "mark":{"type":"text","align":"center","baseline":"middle","fontSize":9,"color":"#3a3a3a","font":"Roboto"},
 "encoding":{
  "x":{"field":"d","type":"temporal","scale":{"domain":[{"year":2019,"month":10,"date":3},{"year":2028,"month":12,"date":21}],"padding":0}},
  "y":{"field":"v","type":"quantitative","scale":{"domain":[-1.284,7.806],"nice":false,"zero":false}},
  "text":{"field":"t"}}},
{"data":{"values":[{"d":"2023-10-31","v":-0.302,"t":"154 bars, 1,078d"},{"d":"2023-10-31","v":-0.491,"t":"Vol 41.75 B"}]},
 "mark":{"type":"text","align":"center","baseline":"middle","fontSize":9.5,"color":"#2a2a2a","font":"Roboto"},
 "encoding":{
  "x":{"field":"d","type":"temporal","scale":{"domain":[{"year":2019,"month":10,"date":3},{"year":2028,"month":12,"date":21}],"padding":0}},
  "y":{"field":"v","type":"quantitative","scale":{"domain":[-1.284,7.806],"nice":false,"zero":false}},
  "text":{"field":"t"}}},
{"data":{"values":[{"d":"2025-09-17","v":0.592,"t":"←"}]},
 "mark":{"type":"text","align":"center","baseline":"middle","fontSize":15,"fontWeight":"bold","color":"#111111","font":"DejaVu Sans"},
 "encoding":{
  "x":{"field":"d","type":"temporal","scale":{"domain":[{"year":2019,"month":10,"date":3},{"year":2028,"month":12,"date":21}],"padding":0}},
  "y":{"field":"v","type":"quantitative","scale":{"domain":[-1.284,7.806],"nice":false,"zero":false}},
  "text":{"field":"t"}}},
{"data":{"values":[{"d":"2028-12-21","v":0.8211,"t":"0.8211\n−83.58%\n4d 4h"}]},
 "mark":{"type":"text","align":"left","baseline":"top","dx":6,"dy":-3,"fontSize":8,"lineHeight":8,"lineBreak":"\n","color":"#333333","font":"Roboto"},
 "encoding":{
  "x":{"field":"d","type":"temporal","scale":{"domain":[{"year":2019,"month":10,"date":3},{"year":2028,"month":12,"date":21}],"padding":0}},
  "y":{"field":"v","type":"quantitative","scale":{"domain":[-1.284,7.806],"nice":false,"zero":false}},
  "text":{"field":"t"}}},
{"data":{"values":[{"d":"2028-12-21","v":-1.183,"t":"A\u00a0\u00a0\u00a0\u00a0\u00a0\u00a0\u00a0L"}]},
 "mark":{"type":"text","align":"left","baseline":"middle","dx":11,"fontSize":10,"color":"#333333","font":"Roboto"},
 "encoding":{
  "x":{"field":"d","type":"temporal","scale":{"domain":[{"year":2019,"month":10,"date":3},{"year":2028,"month":12,"date":21}],"padding":0}},
  "y":{"field":"v","type":"quantitative","scale":{"domain":[-1.284,7.806],"nice":false,"zero":false}},
  "text":{"field":"t"}}},
{"data":{"values":[{"d":"2019-10-03","v":-1.183,"t":"TV PRO"}]},
 "mark":{"type":"text","align":"left","baseline":"middle","dx":8,"fontSize":10,"fontWeight":"bold","fontStyle":"italic","color":"#111111","font":"Roboto"},
 "encoding":{
  "x":{"field":"d","type":"temporal","scale":{"domain":[{"year":2019,"month":10,"date":3},{"year":2028,"month":12,"date":21}],"padding":0}},
  "y":{"field":"v","type":"quantitative","scale":{"domain":[-1.284,7.806],"nice":false,"zero":false}},
  "text":{"field":"t"}}}
]
}
